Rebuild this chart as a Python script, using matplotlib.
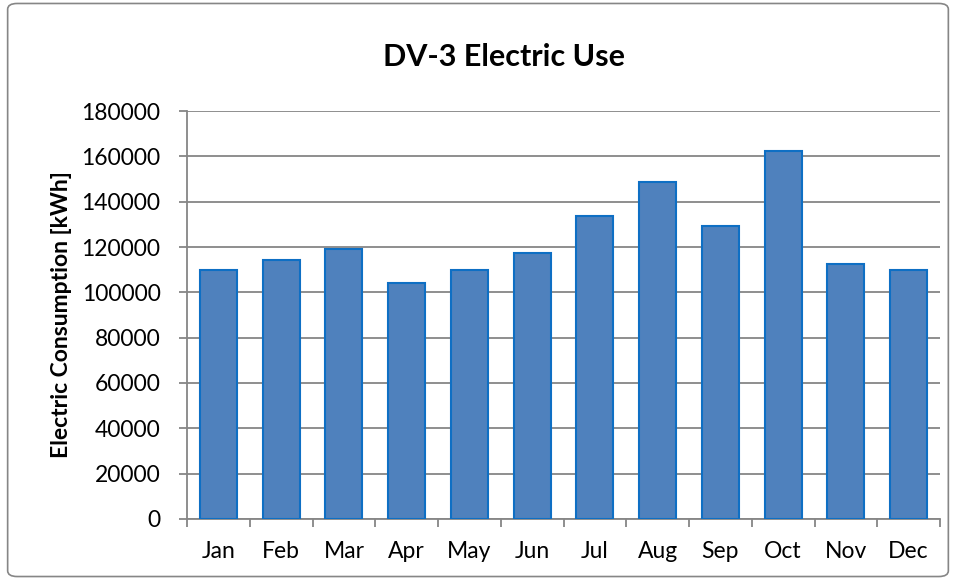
import matplotlib.pyplot as plt
from matplotlib.patches import FancyBboxPatch

months = ['Jan', 'Feb', 'Mar', 'Apr', 'May', 'Jun', 'Jul', 'Aug', 'Sep', 'Oct', 'Nov', 'Dec']
usage = [109800, 114200, 118900, 103900, 109800, 117300, 133800, 148900, 129400, 162300, 112700, 109800]
yticks = [0, 20000, 40000, 60000, 80000, 100000, 120000, 140000, 160000, 180000]

plt.rcParams['font.family'] = ['Lato', 'DejaVu Sans']

fig = plt.figure(figsize=(9.56, 5.8), dpi=100)
ax = fig.add_axes([0.1956, 0.1052, 0.7877, 0.7034])

# chart border like the spreadsheet frame
fig.patches.append(FancyBboxPatch((0.008, 0.006), 0.984, 0.988, boxstyle='round,pad=0,rounding_size=0.01',
                                  transform=fig.transFigure, fill=False, edgecolor='#868686', linewidth=1.2))

x = list(range(len(months)))
ax.bar(x, usage, width=0.59, color='#4F81BD', edgecolor='#0E6FC4', linewidth=1.5, zorder=3)

ax.set_xlim(-0.5, len(months) - 0.5)
ax.set_ylim(0, 180000)
ax.set_yticks(yticks)
ax.set_yticklabels([str(v) for v in yticks], fontsize=16.5)
ax.set_xticks(x)
ax.set_xticklabels(months, fontsize=16.5)
ax.tick_params(axis='x', length=0, pad=16)
ax.set_xticks([i - 0.5 for i in range(len(months) + 1)], minor=True)
ax.tick_params(axis='x', which='minor', length=6, direction='out', color='#868686', width=1.3)
ax.tick_params(axis='y', length=6, direction='out', color='#868686', width=1.3, pad=13)

ax.grid(axis='y', color='#868686', linewidth=1.3, zorder=0)
for s in ['top', 'right']:
    ax.spines[s].set_visible(False)
for s in ['left', 'bottom']:
    ax.spines[s].set_color('#868686')
    ax.spines[s].set_linewidth(1.3)

ax.set_ylabel('Electric Consumption [kWh]', fontsize=16.5, fontweight='bold', labelpad=7)
fig.text(0.527, 0.902, 'DV-3 Electric Use', ha='center', va='center', fontsize=22, fontweight='bold')

fig.savefig('out.png', dpi=100)
